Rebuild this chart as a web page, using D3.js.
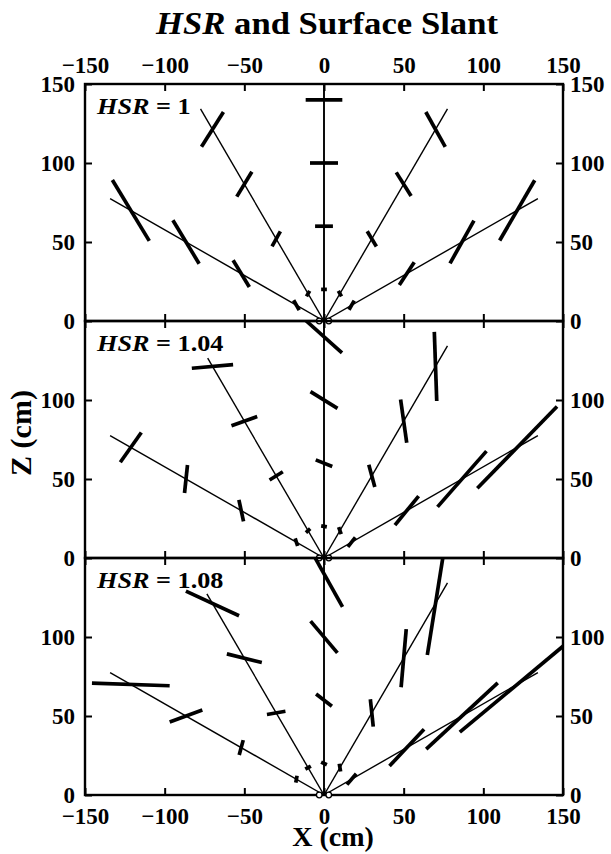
<!DOCTYPE html>
<html><head><meta charset="utf-8">
<script src="https://cdn.jsdelivr.net/npm/d3@7/dist/d3.min.js"></script>
<style>body{margin:0;background:#fff}svg{display:block}
text{font-family:"Liberation Serif","DejaVu Serif",serif;font-weight:bold}</style>
</head><body><svg id="c" width="611" height="854"></svg>
<script>
// ---- data ----
const xTicks = [-150, -100, -50, 0, 50, 100, 150];
const zTicksFirst = [0, 50, 100, 150];
const zTicksOther = [0, 50, 100];
const hsrValues = ["1", "1.04", "1.08"];
const rayAngles = [-60, -30, 0, 30, 60];          // deg from straight ahead
const patchDistances = [20, 60, 100, 140];        // cm along each ray
const rayLengths = [[155, 155, 150, 155, 155], [155, 146, 150, 155, 155], [155, 147, 150, 155, 155]];
const eyeX = [-3, 3];
// patch orientation (deg, counter-clockwise from +X), rows = rays, cols = distances
const orientHSR1   = [[-61, -59, -59, -59], [60, 61, 59, 58], [0, 0, 0, 0], [-60, -59, -58, -61], [60, 57, 61, 60]];
const halfLenHSR1  = [[3.6, 9.9, 16, 22.5], [2, 5.4, 9.2, 13], [1.8, 5.6, 8.8, 11.5], [2, 5.6, 8.8, 12.6], [3.3, 8.6, 15.5, 22]];
const orientHSR104  = [[108, 102, 84, 55], [42, 32, 20, 5], [-10, -22, -32, -42], [110, 105, 98, 92], [52, 51, 49, 46]];
const halfLenHSR104 = [[2.5, 7, 8.9, 11.5], [1.8, 4.9, 8.6, 13], [1.8, 5.6, 10, 15.2], [2.3, 7.3, 13.8, 21.9], [3.8, 11.8, 23.4, 36]];
const orientHSR108  = [[80, 75, 20, -2], [30, 10, -14, -25], [-25, -38, -50, -61], [100, 96, 85, 81], [50, 47, 43, 40]];
const halfLenHSR108 = [[2.2, 4.9, 10.9, 24.4], [2, 5.9, 11.3, 18.4], [2, 6.3, 13.1, 24], [2.5, 8.7, 18.5, 33], [4.5, 15.9, 30.7, 47]];

const orients = [orientHSR1, orientHSR104, orientHSR108];
const halfLens = [halfLenHSR1, halfLenHSR104, halfLenHSR108];

// ---- layout ----
const svg = d3.select("#c");
const left = 85, right = 563, top0 = 84, ph = 237;
const x = d3.scaleLinear().domain([-150, 150]).range([left, right]);
const rad = a => a * Math.PI / 180;

svg.append("text").attr("x", 327).attr("y", 34).attr("text-anchor", "middle")
  .attr("font-size", 31).attr("textLength", 342).attr("lengthAdjust", "spacingAndGlyphs")
  .call(t => { t.append("tspan").attr("font-style", "italic").text("HSR");
               t.append("tspan").text(" and Surface Slant"); });

hsrValues.forEach((hv, p) => {
  const top = top0 + p * ph;
  const y = d3.scaleLinear().domain([0, 150]).range([top + ph, top]);
  const g = svg.append("g");
  const cid = "clip" + p;
  svg.append("defs").append("clipPath").attr("id", cid)
    .append("rect").attr("x", left).attr("y", top).attr("width", right - left).attr("height", ph);
  const plot = g.append("g").attr("clip-path", `url(#${cid})`);

  // rays
  rayAngles.forEach((a, i) => {
    const L = rayLengths[p][i];
    plot.append("line")
      .attr("x1", x(0)).attr("y1", y(0))
      .attr("x2", x(L * Math.sin(rad(a)))).attr("y2", y(L * Math.cos(rad(a))))
      .attr("stroke", "#000").attr("stroke-width", a === 0 ? 1.9 : 1.4);
  });
  // patches
  rayAngles.forEach((a, i) => {
    patchDistances.forEach((d, j) => {
      const cx = d * Math.sin(rad(a)), cz = d * Math.cos(rad(a));
      const o = rad(orients[p][i][j]), h = halfLens[p][i][j];
      plot.append("line")
        .attr("x1", x(cx - h * Math.cos(o))).attr("y1", y(cz - h * Math.sin(o)))
        .attr("x2", x(cx + h * Math.cos(o))).attr("y2", y(cz + h * Math.sin(o)))
        .attr("stroke", "#000").attr("stroke-width", 3.7);
    });
  });

  // frame
  g.append("rect").attr("x", left).attr("y", top).attr("width", right - left).attr("height", ph)
    .attr("fill", "none").attr("stroke", "#000").attr("stroke-width", 2.4);

  const styleAxis = sel => {
    sel.select(".domain").remove();
    sel.attr("font-family", null);
    sel.selectAll("line").attr("stroke", "#000").attr("stroke-width", 2);
    sel.selectAll("text").attr("font-size", 23).attr("fill", "#000");
  };
  const zt = p === 0 ? zTicksFirst : zTicksOther;
  g.append("g").attr("transform", `translate(${left},0)`)
    .call(d3.axisLeft(y).tickValues(zt).tickSizeInner(-7).tickSizeOuter(0).tickPadding(10))
    .call(styleAxis);
  g.append("g").attr("transform", `translate(${right},0)`)
    .call(d3.axisRight(y).tickValues(zt).tickSizeInner(-7).tickSizeOuter(0).tickPadding(7))
    .call(styleAxis);
  g.append("g").attr("transform", `translate(0,${top})`)
    .call(d3.axisTop(x).tickValues(xTicks).tickSizeInner(-7).tickSizeOuter(0).tickPadding(11)
      .tickFormat(p === 0 ? d3.format("d") : () => ""))
    .call(styleAxis);
  g.append("g").attr("transform", `translate(0,${top + ph})`)
    .call(d3.axisBottom(x).tickValues(xTicks).tickSizeInner(-7).tickSizeOuter(0).tickPadding(13)
      .tickFormat(p === 2 ? d3.format("d") : () => ""))
    .call(styleAxis);

  // eyes
  eyeX.forEach(ex => g.append("circle").attr("cx", x(ex)).attr("cy", y(0)).attr("r", 2.8)
    .attr("fill", "#fff").attr("stroke", "#000").attr("stroke-width", 1.3));

  // panel label
  const lab = g.append("text").attr("x", 97).attr("y", top + 30).attr("font-size", 23)
    .call(t => { t.append("tspan").attr("font-style", "italic").text("HSR");
                 t.append("tspan").text(" = " + hv); });
  const w = lab.node().getComputedTextLength();
  lab.attr("textLength", w * 1.14).attr("lengthAdjust", "spacingAndGlyphs");
});

svg.append("text").attr("x", 333).attr("y", 846).attr("text-anchor", "middle")
  .attr("font-size", 28).text("X (cm)");
svg.append("text").attr("transform", "translate(31,433) rotate(-90)").attr("text-anchor", "middle")
  .attr("font-size", 30).text("Z (cm)");
</script></body></html>
